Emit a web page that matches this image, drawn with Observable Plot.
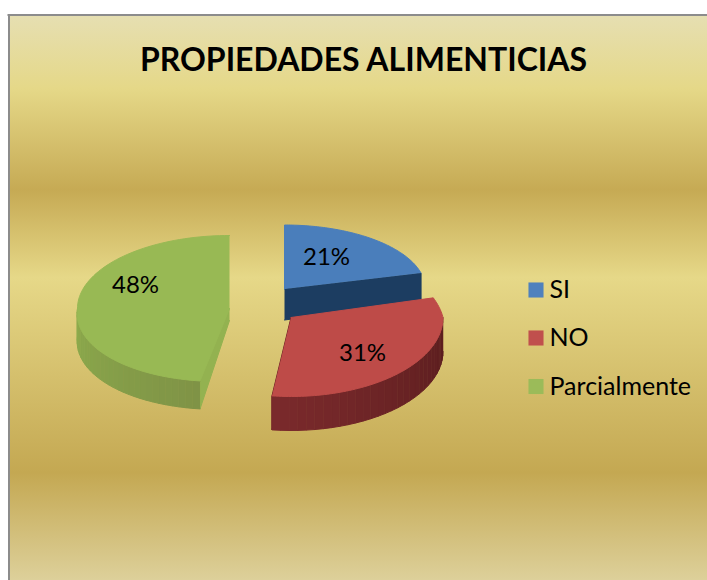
<!DOCTYPE html>
<html><head><meta charset="utf-8">
<script src="https://cdn.jsdelivr.net/npm/d3@7"></script>
<script src="https://cdn.jsdelivr.net/npm/@observablehq/plot@0.6"></script>
<style>html,body{margin:0;padding:0;background:#fff}svg{display:block}</style>
</head><body><div id="chart"></div>
<script>
const categories = ["SI", "NO", "Parcialmente"];
const values = [21, 31, 48];
const topColors = ["#4a7ebb", "#be4b48", "#98b954"];
const legendColors = ["#4f81bd", "#c0504d", "#9bbb59"];
const title = "PROPIEDADES ALIMENTICIAS";

// drawing geometry of each exploded slice
const geometry = [
  {cx:284, cy:288.5, rx:141, ry:64, depth:29, apexDrop:31, sxTop:0,   sxBot:0,  cut:"#1c3d61", wallA:"#1c3d61", wallB:"#1c3d61", labelX:326, labelY:257},
  {cx:290.5, cy:317, rx:152, ry:79, depth:34, apexDrop:34, sxTop:-20, sxBot:0,  cut:"#6b2224", wallA:"#5a1d1e", wallB:"#7b2a2c", labelX:362, labelY:353},
  {cx:229, cy:308, rx:152, ry:73, depth:28, apexDrop:12, sxTop:0,    sxBot:10.5, cut:"#93b250", wallA:"#8cab4c", wallB:"#7f9346", labelX:135, labelY:285}
];
const legendX = 535.5, legendTextX = 549, legendY = [289.5, 337.5, 386];
const W = 707, H = 580, frameL = 9, frameT = 15;

const arcs = d3.pie().sort(null)(values);
const rows = [];
function pt(g, a, drop = 0) {
  const c = Math.cos(a);
  return {
    x: g.cx + g.rx * Math.sin(a) + (c > 0 ? g.sxTop : g.sxBot) * c,
    y: g.cy - g.ry * c + drop
  };
}
function poly(id, fill, pts) { pts.forEach(p => rows.push({id, fill, x: p.x, y: p.y})); }
const apex = (g, drop = 0) => ({x: g.cx, y: g.cy + drop});

function drawSlice(i) {
  const g = geometry[i], s = arcs[i], a0 = s.startAngle, a1 = s.endAngle;
  // straight cut wall, facing the viewer
  const cutAngle = i === 2 ? a0 : a1;
  poly(`cut${i}`, g.cut, [apex(g), pt(g, cutAngle), pt(g, cutAngle, g.depth), apex(g, g.apexDrop)]);
  // curved outer wall, front half only
  const from = Math.max(a0, Math.PI / 2), to = Math.min(a1, Math.PI * 1.5);
  if (to > from) {
    const n = 30;
    const mix = d3.interpolateRgb(g.wallA, g.wallB);
    for (let k = 0; k < n; k++) {
      const u = from + (to - from) * k / n, v = from + (to - from) * (k + 1) / n;
      const t = (k + .5) / n;
      poly(`wall${i}-${k}`, mix(i === 2 ? 1 - t : t), [pt(g, u), pt(g, v), pt(g, v, g.depth), pt(g, u, g.depth)]);
    }
  }
  // top surface
  const top = [apex(g)];
  for (let k = 0; k <= 90; k++) top.push(pt(g, a0 + (a1 - a0) * k / 90));
  poly(`top${i}`, topColors[i], top);
}
[0, 2, 1].forEach(drawSlice);

const labels = values.map((v, i) => ({text: v + "%", x: geometry[i].labelX, y: geometry[i].labelY}));
const legend = categories.map((name, i) => ({name, color: legendColors[i], y: legendY[i]}));

const font = "Lato, Carlito, Calibri, sans-serif";
const bg = [[0,"#e6dfb2"],[13,"#e5d888"],[31,"#c6aa54"],[46.5,"#e6d888"],[81,"#c4a852"],[100,"#ddd09a"]]
  .map(([p,c]) => `${c} ${p}%`).join(",");

const plot = Plot.plot({
  width: W, height: H,
  marginTop: 0, marginRight: 0, marginBottom: 0, marginLeft: 0,
  x: {domain: [0, W], range: [0, W], axis: null},
  y: {domain: [0, H], range: [0, H], axis: null},
  color: {type: "identity"},
  style: {
    background: `linear-gradient(to bottom,${bg}) ${frameL}px ${frameT}px / ${W - frameL}px ${H - frameT}px no-repeat`,
    fontFamily: font, overflow: "visible"
  },
  marks: [
    Plot.ruleX([frameL - 0.5], {y1: frameT - 1, y2: H, stroke: "#8c8c8c", strokeWidth: 2, strokeOpacity: 1}),
    Plot.ruleY([frameT - 0.5], {x1: frameL - 1.5, x2: W, stroke: "#8c8c8c", strokeWidth: 2, strokeOpacity: 1}),
    Plot.line(rows, {x: "x", y: "y", z: "id", fill: "fill", stroke: "fill", strokeWidth: 1}),
    Plot.text(labels, {x: "x", y: "y", text: "text", fontSize: 24, fill: "#000", fontFamily: font}),
    Plot.text([title], {x: [363], y: [60], text: d => d, fontSize: 32, fontWeight: 700, fill: "#000", fontFamily: font}),
    Plot.dot(legend, {x: legendX, y: "y", symbol: "square", r: 8.5, fill: "color", stroke: "none"}),
    Plot.text(legend, {x: legendTextX, y: "y", text: "name", textAnchor: "start", fontSize: 25, fill: "#000", fontFamily: font})
  ]
});
document.getElementById("chart").append(plot);
</script></body></html>
